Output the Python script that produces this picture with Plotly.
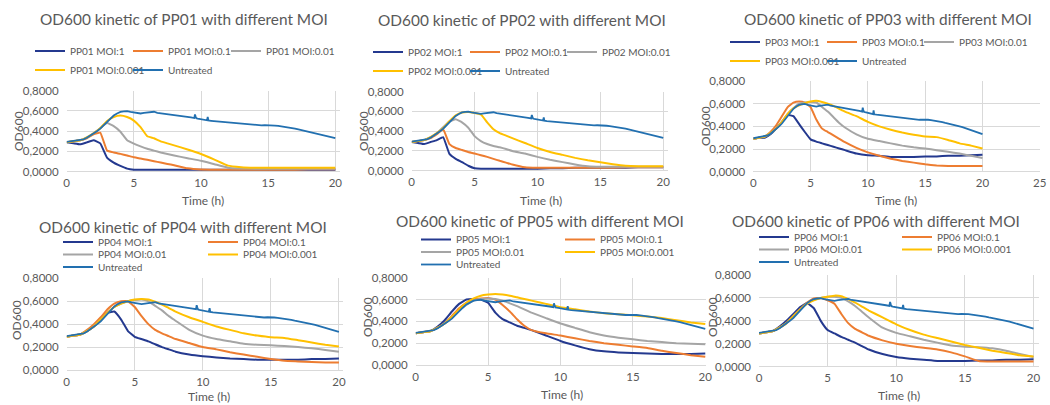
import plotly.graph_objects as go

# ---------------- data ----------------
T = [0, 0.5, 1, 1.5, 2, 2.5, 3, 3.5, 4, 4.5, 5, 5.5, 6, 6.5, 7, 7.5, 8,
     9, 10, 11, 12, 13, 14, 15, 16, 17, 18, 19, 20]

T_UNTREATED = [0, 0.25, 0.5, 0.75, 1, 1.25, 1.5, 1.75, 2, 2.25, 2.5, 2.75, 3, 3.25, 3.5, 3.75,
               4, 4.25, 4.5, 4.75, 5, 5.25, 5.5, 5.75, 6, 6.25, 6.5, 6.75, 7, 7.25, 7.5, 7.75,
               8, 8.25, 8.5, 8.75, 9, 9.25, 9.5, 9.55, 9.6, 9.65, 9.75, 10, 10.25, 10.45, 10.5,
               10.55, 10.75, 11, 11.25, 11.5, 11.75, 12, 12.25, 12.5, 12.75, 13, 13.25, 13.5,
               13.75, 14, 14.25, 14.5, 14.75, 15, 15.25, 15.5, 15.75, 16, 16.25, 16.5, 16.75,
               17, 17.25, 17.5, 17.75, 18, 18.25, 18.5, 18.75, 19, 19.25, 19.5, 19.75, 20]
UNTREATED = [0.295, 0.30, 0.305, 0.305, 0.31, 0.32, 0.335, 0.355, 0.375, 0.40, 0.425, 0.46,
             0.49, 0.525, 0.555, 0.575, 0.59, 0.595, 0.598, 0.59, 0.585, 0.578, 0.575, 0.58,
             0.585, 0.588, 0.592, 0.582, 0.578, 0.572, 0.568, 0.56, 0.556, 0.553, 0.548, 0.545,
             0.54, 0.536, 0.53, 0.565, 0.545, 0.528, 0.525, 0.518, 0.512, 0.508, 0.54, 0.506,
             0.503, 0.50, 0.497, 0.492, 0.49, 0.487, 0.483, 0.478, 0.476, 0.473, 0.47, 0.468,
             0.462, 0.465, 0.46, 0.458, 0.46, 0.456, 0.458, 0.455, 0.452, 0.448, 0.443, 0.437,
             0.43, 0.425, 0.418, 0.41, 0.405, 0.40, 0.393, 0.385, 0.375, 0.368, 0.36, 0.352,
             0.342, 0.332]

PP01_MOI_1 = [0.29, 0.28, 0.27, 0.29, 0.31, 0.28, 0.14, 0.09, 0.057, 0.03, 0.02, 0.02, 0.02, 0.02, 0.02, 0.02, 0.02,
              0.02, 0.02, 0.02, 0.02, 0.02, 0.02, 0.02, 0.02, 0.02, 0.02, 0.02, 0.02]
PP01_MOI_01 = [0.29, 0.30, 0.31, 0.33, 0.37, 0.385, 0.21, 0.19, 0.176, 0.16, 0.142, 0.13, 0.118, 0.104, 0.09, 0.077, 0.064,
               0.034, 0.022, 0.02, 0.02, 0.02, 0.02, 0.02, 0.02, 0.02, 0.025, 0.025, 0.025]
PP01_MOI_001 = [0.29, 0.30, 0.31, 0.34, 0.38, 0.43, 0.48, 0.45, 0.395, 0.31, 0.277, 0.25, 0.226, 0.208, 0.19, 0.175, 0.16,
                0.133, 0.108, 0.074, 0.04, 0.032, 0.03, 0.03, 0.03, 0.03, 0.03, 0.03, 0.03]
PP01_MOI_0001 = [0.29, 0.30, 0.31, 0.34, 0.38, 0.43, 0.50, 0.54, 0.555, 0.54, 0.505, 0.44, 0.35, 0.33, 0.30, 0.28, 0.26,
                 0.22, 0.175, 0.12, 0.06, 0.045, 0.04, 0.04, 0.04, 0.04, 0.04, 0.04, 0.04]

PP02_MOI_1 = [0.29, 0.28, 0.27, 0.29, 0.31, 0.34, 0.17, 0.12, 0.087, 0.05, 0.025, 0.02, 0.02, 0.02, 0.02, 0.02, 0.02,
              0.02, 0.02, 0.025, 0.025, 0.03, 0.03, 0.03, 0.03, 0.03, 0.035, 0.035, 0.035]
PP02_MOI_01 = [0.29, 0.30, 0.31, 0.33, 0.37, 0.42, 0.27, 0.23, 0.21, 0.19, 0.174, 0.157, 0.14, 0.12, 0.10, 0.082, 0.063,
               0.035, 0.03, 0.03, 0.03, 0.03, 0.03, 0.03, 0.03, 0.035, 0.035, 0.035, 0.035]
PP02_MOI_001 = [0.29, 0.30, 0.31, 0.34, 0.38, 0.44, 0.50, 0.52, 0.49, 0.435, 0.35, 0.30, 0.27, 0.25, 0.237, 0.22, 0.20,
                0.174, 0.14, 0.11, 0.087, 0.063, 0.045, 0.04, 0.04, 0.04, 0.04, 0.04, 0.04]
PP02_MOI_0001 = [0.29, 0.30, 0.31, 0.34, 0.38, 0.43, 0.50, 0.56, 0.59, 0.595, 0.585, 0.57, 0.49, 0.42, 0.38, 0.355, 0.33,
                 0.28, 0.23, 0.19, 0.16, 0.13, 0.105, 0.085, 0.065, 0.05, 0.045, 0.045, 0.045]

PP03_MOI_1 = [0.29, 0.30, 0.30, 0.33, 0.38, 0.44, 0.50, 0.49, 0.42, 0.35, 0.285, 0.265, 0.25, 0.235, 0.22, 0.205, 0.19,
              0.16, 0.145, 0.14, 0.13, 0.13, 0.13, 0.135, 0.135, 0.14, 0.14, 0.145, 0.15]
PP03_MOI_01 = [0.29, 0.30, 0.31, 0.35, 0.41, 0.49, 0.57, 0.61, 0.62, 0.61, 0.57, 0.46, 0.38, 0.35, 0.32, 0.29, 0.26,
               0.21, 0.17, 0.14, 0.115, 0.095, 0.08, 0.065, 0.055, 0.05, 0.05, 0.05, 0.05]
PP03_MOI_001 = [0.29, 0.30, 0.31, 0.34, 0.38, 0.44, 0.51, 0.56, 0.60, 0.61, 0.615, 0.61, 0.57, 0.53, 0.48, 0.43, 0.39,
                0.33, 0.29, 0.27, 0.25, 0.23, 0.215, 0.205, 0.19, 0.175, 0.16, 0.14, 0.12]
PP03_MOI_0001 = [0.29, 0.30, 0.31, 0.34, 0.38, 0.44, 0.51, 0.56, 0.585, 0.605, 0.62, 0.625, 0.615, 0.60, 0.58, 0.555, 0.53,
                 0.49, 0.44, 0.40, 0.37, 0.345, 0.325, 0.31, 0.305, 0.28, 0.25, 0.23, 0.205]

PP04_MOI_1 = [0.29, 0.30, 0.31, 0.34, 0.38, 0.44, 0.50, 0.51, 0.44, 0.34, 0.29, 0.27, 0.25, 0.225, 0.20, 0.18, 0.16,
              0.135, 0.12, 0.11, 0.10, 0.095, 0.09, 0.09, 0.09, 0.09, 0.095, 0.095, 0.10]
PP04_MOI_01 = [0.29, 0.30, 0.31, 0.35, 0.40, 0.46, 0.53, 0.58, 0.60, 0.60, 0.55, 0.47, 0.40, 0.35, 0.32, 0.295, 0.27,
               0.235, 0.20, 0.18, 0.155, 0.135, 0.115, 0.095, 0.08, 0.075, 0.07, 0.065, 0.065]
PP04_MOI_001 = [0.29, 0.30, 0.31, 0.34, 0.38, 0.44, 0.50, 0.55, 0.58, 0.60, 0.61, 0.615, 0.60, 0.56, 0.52, 0.47, 0.43,
                0.35, 0.30, 0.27, 0.25, 0.23, 0.22, 0.215, 0.21, 0.20, 0.19, 0.175, 0.16]
PP04_MOI_0001 = [0.29, 0.30, 0.31, 0.34, 0.38, 0.44, 0.50, 0.55, 0.58, 0.60, 0.615, 0.62, 0.615, 0.595, 0.57, 0.54, 0.51,
                 0.46, 0.42, 0.38, 0.35, 0.32, 0.30, 0.285, 0.28, 0.26, 0.24, 0.22, 0.205]

PP05_MOI_1 = [0.29, 0.30, 0.31, 0.35, 0.41, 0.49, 0.56, 0.60, 0.605, 0.60, 0.57, 0.48, 0.42, 0.39, 0.36, 0.34, 0.32,
              0.27, 0.22, 0.18, 0.145, 0.125, 0.115, 0.11, 0.105, 0.10, 0.10, 0.10, 0.105]
PP05_MOI_01 = [0.29, 0.30, 0.31, 0.34, 0.38, 0.45, 0.52, 0.57, 0.60, 0.61, 0.615, 0.60, 0.55, 0.49, 0.42, 0.36, 0.32,
               0.29, 0.27, 0.245, 0.22, 0.20, 0.185, 0.17, 0.155, 0.13, 0.11, 0.09, 0.075]
PP05_MOI_001 = [0.29, 0.30, 0.31, 0.34, 0.38, 0.44, 0.50, 0.55, 0.59, 0.605, 0.61, 0.605, 0.59, 0.565, 0.54, 0.51, 0.48,
                0.43, 0.38, 0.34, 0.30, 0.27, 0.25, 0.235, 0.22, 0.21, 0.20, 0.195, 0.19]
PP05_MOI_0001 = [0.29, 0.30, 0.31, 0.34, 0.38, 0.44, 0.51, 0.57, 0.61, 0.635, 0.645, 0.65, 0.645, 0.635, 0.62, 0.605, 0.59,
                 0.56, 0.53, 0.51, 0.49, 0.475, 0.465, 0.455, 0.445, 0.43, 0.41, 0.39, 0.375]

PP06_MOI_1 = [0.29, 0.30, 0.31, 0.35, 0.40, 0.46, 0.52, 0.555, 0.51, 0.40, 0.32, 0.29, 0.26, 0.235, 0.21, 0.18, 0.15,
              0.11, 0.085, 0.07, 0.06, 0.05, 0.05, 0.05, 0.055, 0.055, 0.06, 0.06, 0.065]
PP06_MOI_01 = [0.29, 0.30, 0.31, 0.34, 0.38, 0.44, 0.50, 0.56, 0.595, 0.60, 0.58, 0.55, 0.46, 0.38, 0.33, 0.30, 0.27,
               0.23, 0.20, 0.18, 0.165, 0.15, 0.125, 0.09, 0.05, 0.045, 0.045, 0.045, 0.045]
PP06_MOI_001 = [0.29, 0.30, 0.31, 0.34, 0.38, 0.44, 0.50, 0.55, 0.585, 0.60, 0.61, 0.61, 0.60, 0.57, 0.53, 0.48, 0.43,
                0.34, 0.295, 0.265, 0.235, 0.21, 0.185, 0.175, 0.17, 0.16, 0.14, 0.11, 0.085]
PP06_MOI_0001 = [0.29, 0.30, 0.31, 0.34, 0.38, 0.44, 0.50, 0.55, 0.58, 0.60, 0.61, 0.62, 0.615, 0.59, 0.56, 0.525, 0.49,
                 0.43, 0.37, 0.32, 0.28, 0.25, 0.22, 0.19, 0.165, 0.14, 0.12, 0.10, 0.09]

PHAGES = ["PP01", "PP02", "PP03", "PP04", "PP05", "PP06"]
MOI_LABELS = ["MOI:1", "MOI:0.1", "MOI:0.01", "MOI:0.001"]
SERIES = {
    "PP01": [PP01_MOI_1, PP01_MOI_01, PP01_MOI_001, PP01_MOI_0001],
    "PP02": [PP02_MOI_1, PP02_MOI_01, PP02_MOI_001, PP02_MOI_0001],
    "PP03": [PP03_MOI_1, PP03_MOI_01, PP03_MOI_001, PP03_MOI_0001],
    "PP04": [PP04_MOI_1, PP04_MOI_01, PP04_MOI_001, PP04_MOI_0001],
    "PP05": [PP05_MOI_1, PP05_MOI_01, PP05_MOI_001, PP05_MOI_0001],
    "PP06": [PP06_MOI_1, PP06_MOI_01, PP06_MOI_001, PP06_MOI_0001],
}
Y_TICKS = [0, 0.2, 0.4, 0.6, 0.8]
X_TITLE = "Time (h)"
Y_TITLE = "OD600"

# ---------------- styling ----------------
W, H = 1050, 405
FONT = "Lato"
TXT = "#595959"
GRID = "#D9D9D9"
COLORS = ["#24398F", "#ED7D31", "#A5A5A5", "#FFC000", "#2270B0"]


def px(x):
    return x / W


def py(y):
    return 1 - y / H


# layout positions (pixels) for each panel
PANELS = [
    dict(xd=(66.7, 340), yd=(90.7, 171.7), xmax=20.35, title=(184, 19), xt=(203, 201), yt=(18, 131),
         rows=[(["MOI:1", "MOI:0.1", "MOI:0.01"], 51), (["MOI:0.001", "Untreated"], 70)], lx=30, ew=53),
    dict(xd=(411.7, 668), yd=(91.7, 170.7), xmax=20.38, title=(522, 20), xt=(541, 201), yt=(363, 131),
         rows=[(["MOI:1", "MOI:0.1", "MOI:0.01"], 52), (["MOI:0.001", "Untreated"], 71)], lx=368, ew=52),
    dict(xd=(753.3, 1040), yd=(81, 171.7), xmax=25.02, title=(888, 19), xt=(896, 200), yt=(705, 126),
         rows=[(["MOI:1", "MOI:0.1", "MOI:0.01"], 42), (["MOI:0.001", "Untreated"], 61)], lx=725, ew=52),
    dict(xd=(66.7, 343), yd=(278.3, 370), xmax=20.3, title=(183, 227), xt=(209, 396.5), yt=(16, 320),
         rows=[(["MOI:1", "MOI:0.1"], 242), (["MOI:0.01", "MOI:0.001"], 254.5), (["Untreated"], 267)], lx=58, ew=100),
    dict(xd=(415.7, 706), yd=(277.7, 365), xmax=20.05, title=(540, 221), xt=(562, 394), yt=(367, 317),
         rows=[(["MOI:1", "MOI:0.1"], 239.5), (["MOI:0.01", "MOI:0.001"], 252), (["Untreated"], 264.5)], lx=416, ew=99),
    dict(xd=(759, 1039), yd=(275, 366.7), xmax=20.4, title=(876, 221), xt=(899, 395.5), yt=(712, 317),
         rows=[(["MOI:1", "MOI:0.1"], 237), (["MOI:0.01", "MOI:0.001"], 249.5), (["Untreated"], 262)], lx=754, ew=98),
]

fig = go.Figure()
layout = dict(
    width=W, height=H, margin=dict(l=0, r=0, t=0, b=0, autoexpand=False),
    paper_bgcolor="white", plot_bgcolor="white",
    separators=", ",
    font=dict(family=FONT, color=TXT, size=11),
    annotations=[],
)

legend_idx = 0
for i, (phage, cfg) in enumerate(zip(PHAGES, PANELS), start=1):
    xa = "x" if i == 1 else f"x{i}"
    ya = "y" if i == 1 else f"y{i}"
    xkey = "xaxis" if i == 1 else f"xaxis{i}"
    ykey = "yaxis" if i == 1 else f"yaxis{i}"

    row_legend = {}
    item_width = {}
    for names, ycen in cfg["rows"]:
        legend_idx += 1
        lid = "legend" if legend_idx == 1 else f"legend{legend_idx}"
        for j, n in enumerate(names):
            row_legend[n] = lid
            item_width[n] = cfg["ew"] if j < len(names) - 1 else 110
        layout[lid] = dict(
            orientation="h", x=px(cfg["lx"]), xanchor="left", y=py(ycen), yanchor="middle",
            bgcolor="rgba(0,0,0,0)", borderwidth=0,
            font=dict(family=FONT, size=10, color=TXT), itemclick=False, itemdoubleclick=False,
            tracegroupgap=0, itemwidth=30,
        )

    for k, (lab, vals) in enumerate(zip(MOI_LABELS, SERIES[phage])):
        fig.add_trace(go.Scatter(
            x=T, y=vals, mode="lines", name=f"{phage} {lab}",
            line=dict(color=COLORS[k], width=2, shape="spline", smoothing=0.3),
            xaxis=xa, yaxis=ya, legend=row_legend[lab], legendwidth=item_width[lab],
        ))
    fig.add_trace(go.Scatter(
        x=T_UNTREATED, y=UNTREATED, mode="lines", name="Untreated",
        line=dict(color=COLORS[4], width=1.8),
        xaxis=xa, yaxis=ya, legend=row_legend["Untreated"], legendwidth=item_width["Untreated"],
    ))

    layout[xkey] = dict(
        domain=[px(cfg["xd"][0]), px(cfg["xd"][1])], anchor=ya, range=[0, cfg["xmax"]],
        dtick=5, tick0=0, showgrid=True, gridcolor=GRID, gridwidth=1, zeroline=False,
        showline=False, ticks="", automargin=False, ticklabelstandoff=3,
        ticklabeloverflow="allow",
        tickfont=dict(family=FONT, size=11.5, color=TXT), fixedrange=True,
    )
    layout[ykey] = dict(
        domain=[py(cfg["yd"][1]), py(cfg["yd"][0])], anchor=xa, range=[0, 0.8],
        tickvals=Y_TICKS, tickformat=".4f", showgrid=True, gridcolor=GRID, gridwidth=1,
        zeroline=True, zerolinecolor=GRID, zerolinewidth=1, showline=False, ticks="",
        automargin=False, ticklabelstandoff=7,
        tickfont=dict(family=FONT, size=11.5, color=TXT), fixedrange=True,
    )
    layout["annotations"].append(dict(
        text=f"OD600 kinetic of {phage} with different MOI", xref="paper", yref="paper",
        x=px(cfg["title"][0]), y=py(cfg["title"][1]), xanchor="center", yanchor="middle",
        showarrow=False, font=dict(family=FONT, size=15.4, color=TXT),
    ))
    layout["annotations"].append(dict(
        text=X_TITLE, xref="paper", yref="paper",
        x=px(cfg["xt"][0]), y=py(cfg["xt"][1]), xanchor="center", yanchor="middle",
        showarrow=False, font=dict(family=FONT, size=12, color=TXT),
    ))
    layout["annotations"].append(dict(
        text=Y_TITLE, xref="paper", yref="paper", textangle=-90,
        x=px(cfg["yt"][0]), y=py(cfg["yt"][1]), xanchor="center", yanchor="middle",
        showarrow=False, font=dict(family=FONT, size=12, color=TXT),
    ))

fig.update_layout(**layout)
fig.write_html(
    "out.html",
    config={"displayModeBar": False, "staticPlot": False},
    post_script="document.body.style.margin='0';document.body.style.overflow='hidden';",
)
